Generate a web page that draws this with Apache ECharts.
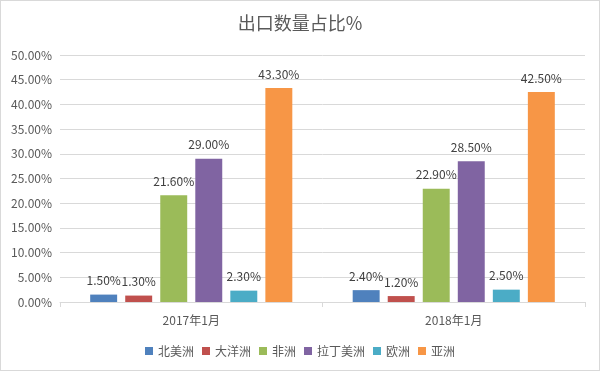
<!DOCTYPE html>
<html><head><meta charset="utf-8">
<script src="https://cdn.jsdelivr.net/npm/echarts@6/dist/echarts.min.js"></script>
<style>html,body{margin:0;padding:0;background:#fff}#c{width:598px;height:369px;border:1px solid #d9d9d9}</style>
</head><body><div id="c"></div>
<script>
const categories = ['2017年1月', '2018年1月'];
const seriesNames = ['北美洲', '大洋洲', '非洲', '拉丁美洲', '欧洲', '亚洲'];
const northAmerica = [1.5, 2.4];
const oceania = [1.3, 1.2];
const africa = [21.6, 22.9];
const latinAmerica = [29.0, 28.5];
const europe = [2.3, 2.5];
const asia = [43.3, 42.5];
const colors = ['#4F81BD', '#C0504D', '#9BBB59', '#8064A2', '#4BACC6', '#F79646'];
const allData = [northAmerica, oceania, africa, latinAmerica, europe, asia];
const font = '"Noto Sans CJK SC", "Noto Sans", sans-serif';
const chart = echarts.init(document.getElementById('c'));
chart.setOption({
  animation: false,
  textStyle: {fontFamily: font},
  title: {text: '出口数量占比%', left: 'center', top: 8, textStyle: {fontSize: 18, fontWeight: 'normal', color: '#595959', fontFamily: font}},
  grid: {left: 59, right: 14, top: 54, bottom: 68},
  legend: {bottom: 8, left: 'center', itemWidth: 8, itemHeight: 8, itemGap: 8, icon: 'rect',
    textStyle: {fontSize: 12, color: '#595959', fontFamily: font}, data: seriesNames},
  xAxis: {type: 'category', data: categories,
    axisLine: {lineStyle: {color: '#d9d9d9'}},
    axisTick: {show: true, length: 5, lineStyle: {color: '#d9d9d9'}},
    axisLabel: {color: '#595959', fontSize: 12, margin: 12}},
  yAxis: {type: 'value', min: 0, max: 50, interval: 5,
    axisLine: {show: false}, axisTick: {show: false},
    splitLine: {lineStyle: {color: '#d9d9d9'}},
    axisLabel: {color: '#595959', fontSize: 12, formatter: v => v.toFixed(2) + '%'}},
  series: seriesNames.map((n, i) => ({
    name: n, type: 'bar', data: allData[i],
    barGap: '30%', barCategoryGap: '23%',
    itemStyle: {color: colors[i]},
    label: {show: true, position: 'top', distance: 8, color: '#404040', fontSize: 12,
      formatter: p => p.value.toFixed(2) + '%'}
  }))
});
</script></body></html>
